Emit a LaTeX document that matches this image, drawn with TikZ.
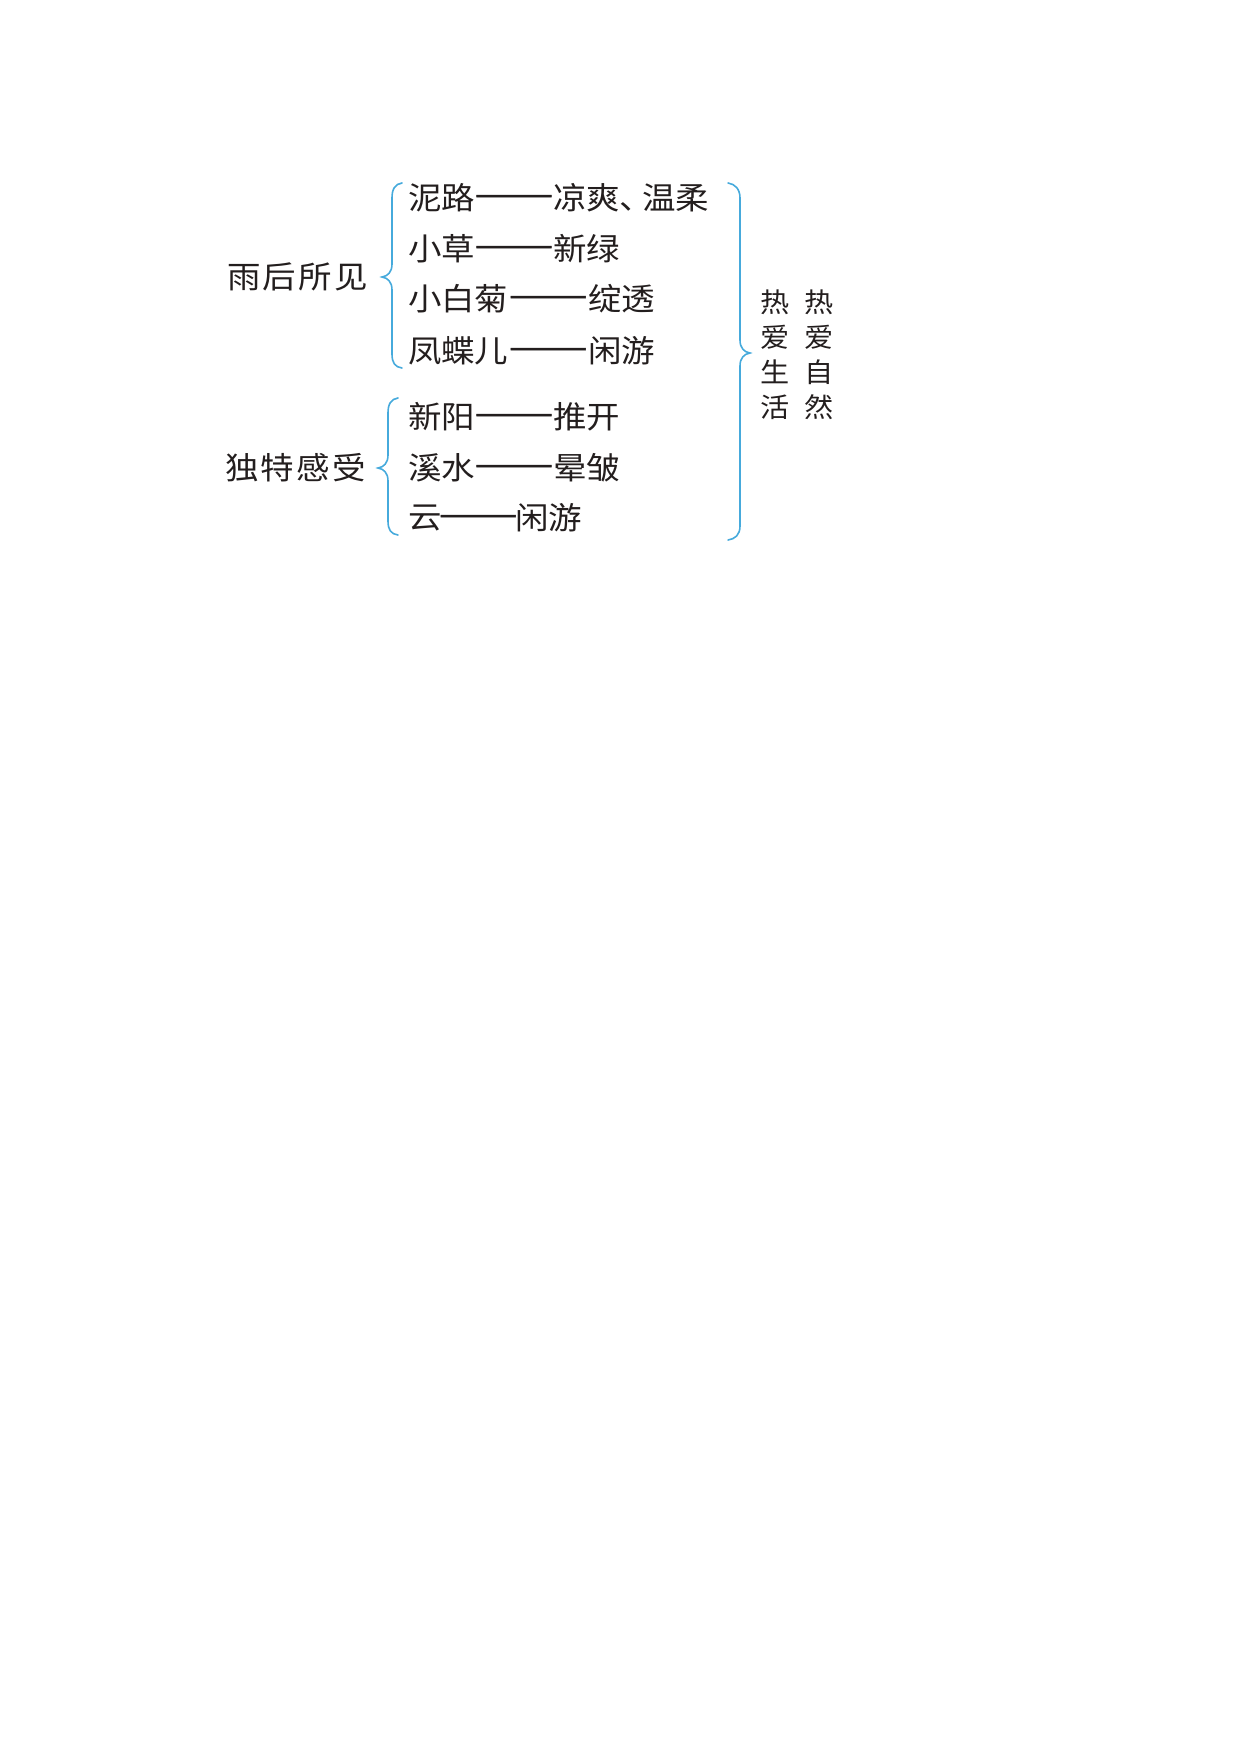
\documentclass[tikz,border=0pt]{standalone}
\usepackage{fontspec}
\usetikzlibrary{calc}
\newfontfamily\cjk[FakeStretch=1.08]{Noto Sans CJK SC}
\newfontfamily\cjkdash[FakeStretch=1.52,FakeBold=1.5]{Noto Sans CJK SC}
\definecolor{bracecol}{RGB}{70,170,220}
\definecolor{txtcol}{RGB}{35,30,30}
\begin{document}
\begin{tikzpicture}[x=1pt,y=-1pt,
  every node/.style={inner sep=0pt, outer sep=0pt, text=txtcol},
  rowtxt/.style={font=\cjk\fontsize{31}{35}\selectfont, anchor=west},
  dashtxt/.style={font=\cjkdash\fontsize{31}{35}\selectfont, yshift=-2pt},
  grouptxt/.style={font=\cjk\fontsize{31}{35}\selectfont, anchor=west},
  coltxt/.style={font=\cjk\fontsize{27}{35}\selectfont, align=center},
  bracel/.style={draw=bracecol, line width=1.6pt, line cap=round}]
\useasboundingbox (0,0) rectangle (1240,1754);
\newcommand{\gs}{\hspace{2.5pt}}
% group labels
\node[grouptxt] (g1) at (227,277) {雨\gs 后\gs 所\gs 见};
\node[grouptxt] (g2) at (225,468) {独\gs 特\gs 感\gs 受};
% braces
\draw[bracel] (402,183) .. controls (395,184) and (392,189) .. (392,198) -- (392,264)
  .. controls (392,272) and (388,276) .. (382,277)
  .. controls (388,278) and (392,282) .. (392,290) -- (392,354)
  .. controls (392,363) and (395,367) .. (402,368);
\draw[bracel] (398,398) .. controls (391,399) and (388,404) .. (388,413) -- (388,455)
  .. controls (388,463) and (384,467) .. (378,468)
  .. controls (384,469) and (388,473) .. (388,481) -- (388,521)
  .. controls (388,530) and (391,534) .. (398,535);
\draw[bracel] (728,183) .. controls (735,184) and (740,189) .. (740,198) -- (740,340)
  .. controls (740,348) and (744,352) .. (750,353)
  .. controls (744,354) and (740,358) .. (740,366) -- (740,526)
  .. controls (740,535) and (735,539) .. (728,540);
% rows
\node[rowtxt] (l1) at (408,198) {泥路};
\node[rowtxt] (r1) at (553,198) {凉爽、\hspace{-11pt}温柔};
\node[rowtxt] (l2) at (408,249) {小草};
\node[rowtxt] (r2) at (553,249) {新绿};
\node[rowtxt] (l3) at (408,299) {小白菊};
\node[rowtxt] (r3) at (588,299) {绽透};
\node[rowtxt] (l4) at (408,351) {凤蝶儿};
\node[rowtxt] (r4) at (588,351) {闲游};
\node[rowtxt] (l5) at (408,417) {新阳};
\node[rowtxt] (r5) at (553,417) {推开};
\node[rowtxt] (l6) at (408,468) {溪水};
\node[rowtxt] (r6) at (553,468) {晕皱};
\node[rowtxt] (l7) at (408,518) {云};
\node[rowtxt] (r7) at (515,518) {闲游};
\node[dashtxt] (d1) at ($(l1.east)!0.5!(r1.west)$) {——};
\node[dashtxt] (d2) at ($(l2.east)!0.5!(r2.west)$) {——};
\node[dashtxt] (d3) at ($(l3.east)!0.5!(r3.west)$) {——};
\node[dashtxt] (d4) at ($(l4.east)!0.5!(r4.west)$) {——};
\node[dashtxt] (d5) at ($(l5.east)!0.5!(r5.west)$) {——};
\node[dashtxt] (d6) at ($(l6.east)!0.5!(r6.west)$) {——};
\node[dashtxt] (d7) at ($(l7.east)!0.5!(r7.west)$) {——};
% right columns
\node[coltxt] (c1) at (775,355) {热\\爱\\生\\活};
\node[coltxt] (c2) at (819,355) {热\\爱\\自\\然};
\end{tikzpicture}
\end{document}
